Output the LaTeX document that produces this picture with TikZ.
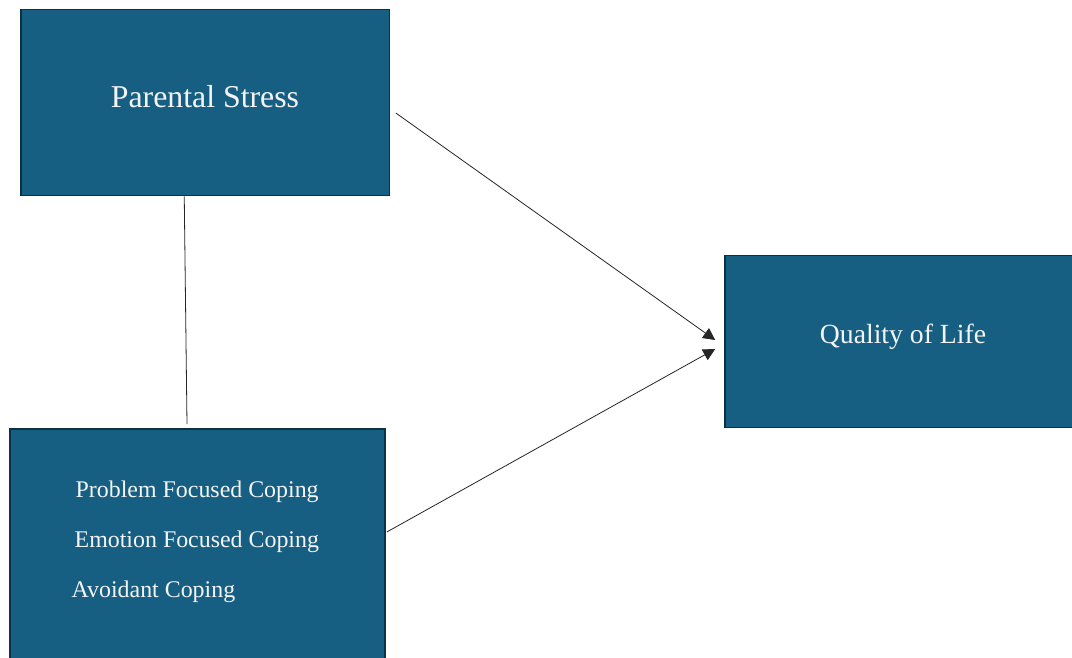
\documentclass[tikz,border=0pt]{standalone}
\usepackage{fontspec}
\setmainfont{Liberation Serif}
\usetikzlibrary{arrows.meta,calc}
\definecolor{boxfill}{HTML}{175F82}
\definecolor{boxline}{HTML}{0C3247}
\definecolor{boxtext}{HTML}{F4F4F4}
\tikzset{
  varbox/.style={draw=boxline, line width=1.6pt, fill=boxfill, rectangle, inner sep=0pt},
  link/.style={draw=black!85, line width=0.8pt},
  arr/.style={link, -{Triangle[length=12pt,width=12pt]}},
  lbl/.style={text=boxtext, inner sep=0pt}
}
\begin{document}
\begin{tikzpicture}[x=1pt,y=-1pt]
\useasboundingbox (0,0) rectangle (1072,658);
\fill[white] (0,0) rectangle (1072,658);
% boxes
\node[varbox, minimum width=368.5pt, minimum height=186pt] (ps) at (205.25,102.5) {};
\node[varbox, minimum width=352pt, minimum height=172pt] (qol) at (901,341.5) {};
\node[varbox, minimum width=375pt, minimum height=236pt] (cope) at (197.5,547) {};
% labels
\node[lbl, font=\fontsize{31.8}{36}\selectfont] (pst) at (205,97) {Parental Stress};
\node[lbl, font=\fontsize{27.7}{32}\selectfont] (qolt) at (903,337) {Quality of Life};
\node[lbl, anchor=west, font=\fontsize{23.9}{28}\selectfont] (c1) at (75.5,492) {Problem Focused Coping};
\node[lbl, anchor=west, font=\fontsize{23.9}{28}\selectfont] (c2) at (74.5,542) {Emotion Focused Coping};
\node[lbl, anchor=west, font=\fontsize{23.9}{28}\selectfont] (c3) at (71.5,592) {Avoidant Coping};
% connectors
\draw[link] ([xshift=-21pt]ps.south) -- ([xshift=-10.5pt,yshift=4pt]cope.north);
\draw[arr] ([xshift=5.5pt,yshift=-10.5pt]ps.east) -- ([xshift=-9pt,yshift=1.5pt]qol.west);
\draw[arr] ([xshift=1pt,yshift=15pt]cope.east) -- ([xshift=-9pt,yshift=-7.5pt]qol.west);
\end{tikzpicture}
\end{document}
